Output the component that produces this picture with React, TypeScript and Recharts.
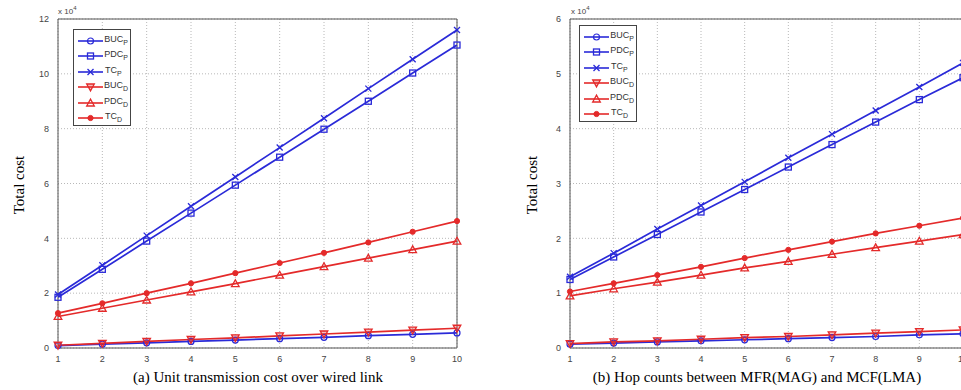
import React from "react";
import {
  LineChart,
  Line,
  XAxis,
  YAxis,
  CartesianGrid,
  ReferenceArea,
} from "recharts";

// values in units of 1e4
const hops = [1, 2, 3, 4, 5, 6, 7, 8, 9, 10];

const bucP_a = [0.09, 0.14, 0.19, 0.24, 0.29, 0.34, 0.39, 0.45, 0.5, 0.55];
const pdcP_a = [1.85, 2.87, 3.9, 4.92, 5.94, 6.96, 7.98, 9.0, 10.03, 11.05];
const tcP_a = [1.95, 3.02, 4.1, 5.17, 6.24, 7.31, 8.38, 9.46, 10.53, 11.6];
const bucD_a = [0.1, 0.17, 0.24, 0.31, 0.37, 0.44, 0.51, 0.58, 0.65, 0.72];
const pdcD_a = [1.15, 1.45, 1.75, 2.05, 2.35, 2.66, 2.97, 3.28, 3.59, 3.9];
const tcD_a = [1.27, 1.63, 2.0, 2.36, 2.73, 3.1, 3.47, 3.85, 4.24, 4.63];

const bucP_b = [0.07, 0.09, 0.11, 0.13, 0.15, 0.17, 0.19, 0.21, 0.24, 0.26];
const pdcP_b = [1.25, 1.66, 2.07, 2.48, 2.89, 3.3, 3.71, 4.12, 4.53, 4.93];
const tcP_b = [1.3, 1.73, 2.17, 2.6, 3.03, 3.47, 3.9, 4.33, 4.76, 5.2];
const bucD_b = [0.08, 0.11, 0.13, 0.16, 0.19, 0.21, 0.24, 0.27, 0.3, 0.33];
const pdcD_b = [0.95, 1.08, 1.2, 1.33, 1.46, 1.58, 1.71, 1.83, 1.95, 2.07];
const tcD_b = [1.03, 1.18, 1.33, 1.48, 1.64, 1.79, 1.94, 2.09, 2.23, 2.37];

const ticksA = [0, 2, 4, 6, 8, 10, 12];
const ticksB = [0, 1, 2, 3, 4, 5, 6];

const BLUE = "#2a2ad8";
const RED = "#e42a2a";

const SERIES = [
  { key: "bucP", base: "BUC", sub: "P", color: BLUE, shape: "circle" },
  { key: "pdcP", base: "PDC", sub: "P", color: BLUE, shape: "square" },
  { key: "tcP", base: "TC", sub: "P", color: BLUE, shape: "x" },
  { key: "bucD", base: "BUC", sub: "D", color: RED, shape: "down" },
  { key: "pdcD", base: "PDC", sub: "D", color: RED, shape: "up" },
  { key: "tcD", base: "TC", sub: "D", color: RED, shape: "star" },
];

const buildRows = (cols: Record<string, number[]>) =>
  hops.map((h, i) => {
    const row: Record<string, number> = { hop: h };
    Object.keys(cols).forEach((k) => (row[k] = cols[k][i]));
    return row;
  });

const dataA = buildRows({ bucP: bucP_a, pdcP: pdcP_a, tcP: tcP_a, bucD: bucD_a, pdcD: pdcD_a, tcD: tcD_a });
const dataB = buildRows({ bucP: bucP_b, pdcP: pdcP_b, tcP: tcP_b, bucD: bucD_b, pdcD: pdcD_b, tcD: tcD_b });

function Marker({ cx, cy, shape, color }: { cx: number; cy: number; shape: string; color: string }) {
  const r = 3;
  switch (shape) {
    case "circle":
      return <circle cx={cx} cy={cy} r={r} fill="none" stroke={color} strokeWidth={1.2} />;
    case "square":
      return <rect x={cx - r} y={cy - r} width={2 * r} height={2 * r} fill="none" stroke={color} strokeWidth={1.3} />;
    case "x":
      return (
        <path
          d={`M${cx - r},${cy - r}L${cx + r},${cy + r}M${cx - r},${cy + r}L${cx + r},${cy - r}`}
          stroke={color}
          strokeWidth={1.3}
        />
      );
    case "down":
      return (
        <path d={`M${cx - 3.8},${cy - 3}L${cx + 3.8},${cy - 3}L${cx},${cy + 3.8}Z`} fill={color} fillOpacity={0.3} stroke={color} strokeWidth={1.3} />
      );
    case "up":
      return (
        <path d={`M${cx - 3.8},${cy + 3}L${cx + 3.8},${cy + 3}L${cx},${cy - 3.8}Z`} fill="none" stroke={color} strokeWidth={1.3} />
      );
    default:
      return <circle cx={cx} cy={cy} r={2.6} fill={color} stroke={color} />;
  }
}

function LegendBox({ left, top }: { left: number; top: number }) {
  return (
    <div
      style={{
        position: "absolute",
        left,
        top,
        width: 58,
        height: 97,
        boxSizing: "border-box",
        border: "1px solid #444",
        background: "#fff",
        padding: "3px 2px 0 2px",
        fontFamily: "Arial, 'Liberation Sans', sans-serif",
        fontSize: 9,
        color: "#333",
      }}
    >
      {SERIES.map((s) => (
        <div key={s.key} style={{ display: "flex", alignItems: "center", height: 15.5 }}>
          <svg width={28} height={12}>
            <line x1={2} y1={6} x2={27} y2={6} stroke={s.color} strokeWidth={1.6} />
            <Marker cx={14.5} cy={6} shape={s.shape} color={s.color} />
          </svg>
          <span style={{ marginLeft: 1, lineHeight: "10px" }}>
            {s.base}
            <sub style={{ fontSize: 7 }}>{s.sub}</sub>
          </span>
        </div>
      ))}
    </div>
  );
}

const tickStyle = { fontSize: 9, fill: "#444", fontFamily: "Arial, 'Liberation Sans', sans-serif" };
const serif = "'Liberation Serif', 'Times New Roman', serif";

function Panel({
  data,
  ticks,
  width,
  margin,
}: {
  data: Record<string, number>[];
  ticks: number[];
  width: number;
  margin: { top: number; right: number; left: number; bottom: number };
}) {
  const yMax = ticks[ticks.length - 1];
  return (
    <LineChart width={width} height={370} data={data} margin={margin}>
      <CartesianGrid stroke="#b8b8b8" strokeDasharray="1 2" />
      <XAxis
        dataKey="hop"
        type="number"
        domain={[1, 10]}
        ticks={hops}
        tick={tickStyle}
        tickLine={false}
        axisLine={false}
        height={22}
        tickMargin={2}
      />
      <YAxis
        type="number"
        domain={[0, yMax]}
        ticks={ticks}
        tick={tickStyle}
        tickLine={false}
        axisLine={false}
        width={30}
        tickMargin={3}
      />
      <ReferenceArea x1={1} x2={10} y1={0} y2={yMax} fill="none" stroke="#555" strokeWidth={1} ifOverflow="visible" />
      {SERIES.map((s) => (
        <Line
          key={s.key}
          dataKey={s.key}
          stroke={s.color}
          strokeWidth={1.7}
          isAnimationActive={false}
          dot={(p: any) => <Marker key={`${s.key}-${p.index}`} cx={p.cx} cy={p.cy} shape={s.shape} color={s.color} />}
          activeDot={false}
        />
      ))}
    </LineChart>
  );
}

export default function App() {
  return (
    <div
      style={{
        position: "absolute",
        left: 0,
        top: 0,
        width: 961,
        height: 390,
        overflow: "hidden",
        background: "#fff",
      }}
    >
      <div style={{ position: "absolute", left: 0, top: 0 }}>
        <Panel data={dataA} ticks={ticksA} width={480} margin={{ top: 19, right: 23, left: 28, bottom: 0 }} />
      </div>
      <div style={{ position: "absolute", left: 480, top: 0 }}>
        <Panel data={dataB} ticks={ticksB} width={490} margin={{ top: 19, right: 7, left: 60, bottom: 0 }} />
      </div>

      <LegendBox left={73} top={29} />
      <LegendBox left={579} top={25} />

      {/* exponent labels */}
      <div style={{ position: "absolute", left: 58, top: 5, fontSize: 8, color: "#444", fontFamily: "Arial, sans-serif" }}>
        x 10<sup style={{ fontSize: 6 }}>4</sup>
      </div>
      <div style={{ position: "absolute", left: 571, top: 5, fontSize: 8, color: "#444", fontFamily: "Arial, sans-serif" }}>
        x 10<sup style={{ fontSize: 6 }}>4</sup>
      </div>

      {/* y titles */}
      <div style={{ position: "absolute", left: 19, top: 185, transform: "translate(-50%,-50%) rotate(-90deg)", fontFamily: serif, fontSize: 15, whiteSpace: "nowrap" }}>
        Total cost
      </div>
      <div style={{ position: "absolute", left: 532, top: 185, transform: "translate(-50%,-50%) rotate(-90deg)", fontFamily: serif, fontSize: 15, whiteSpace: "nowrap" }}>
        Total cost
      </div>

      {/* captions */}
      <div style={{ position: "absolute", left: 258, top: 377, transform: "translate(-50%,-50%)", fontFamily: serif, fontSize: 15, whiteSpace: "nowrap" }}>
        (a) Unit transmission cost over wired link
      </div>
      <div style={{ position: "absolute", left: 757, top: 377, transform: "translate(-50%,-50%)", fontFamily: serif, fontSize: 15, whiteSpace: "nowrap" }}>
        (b) Hop counts between MFR(MAG) and MCF(LMA)
      </div>
    </div>
  );
}
